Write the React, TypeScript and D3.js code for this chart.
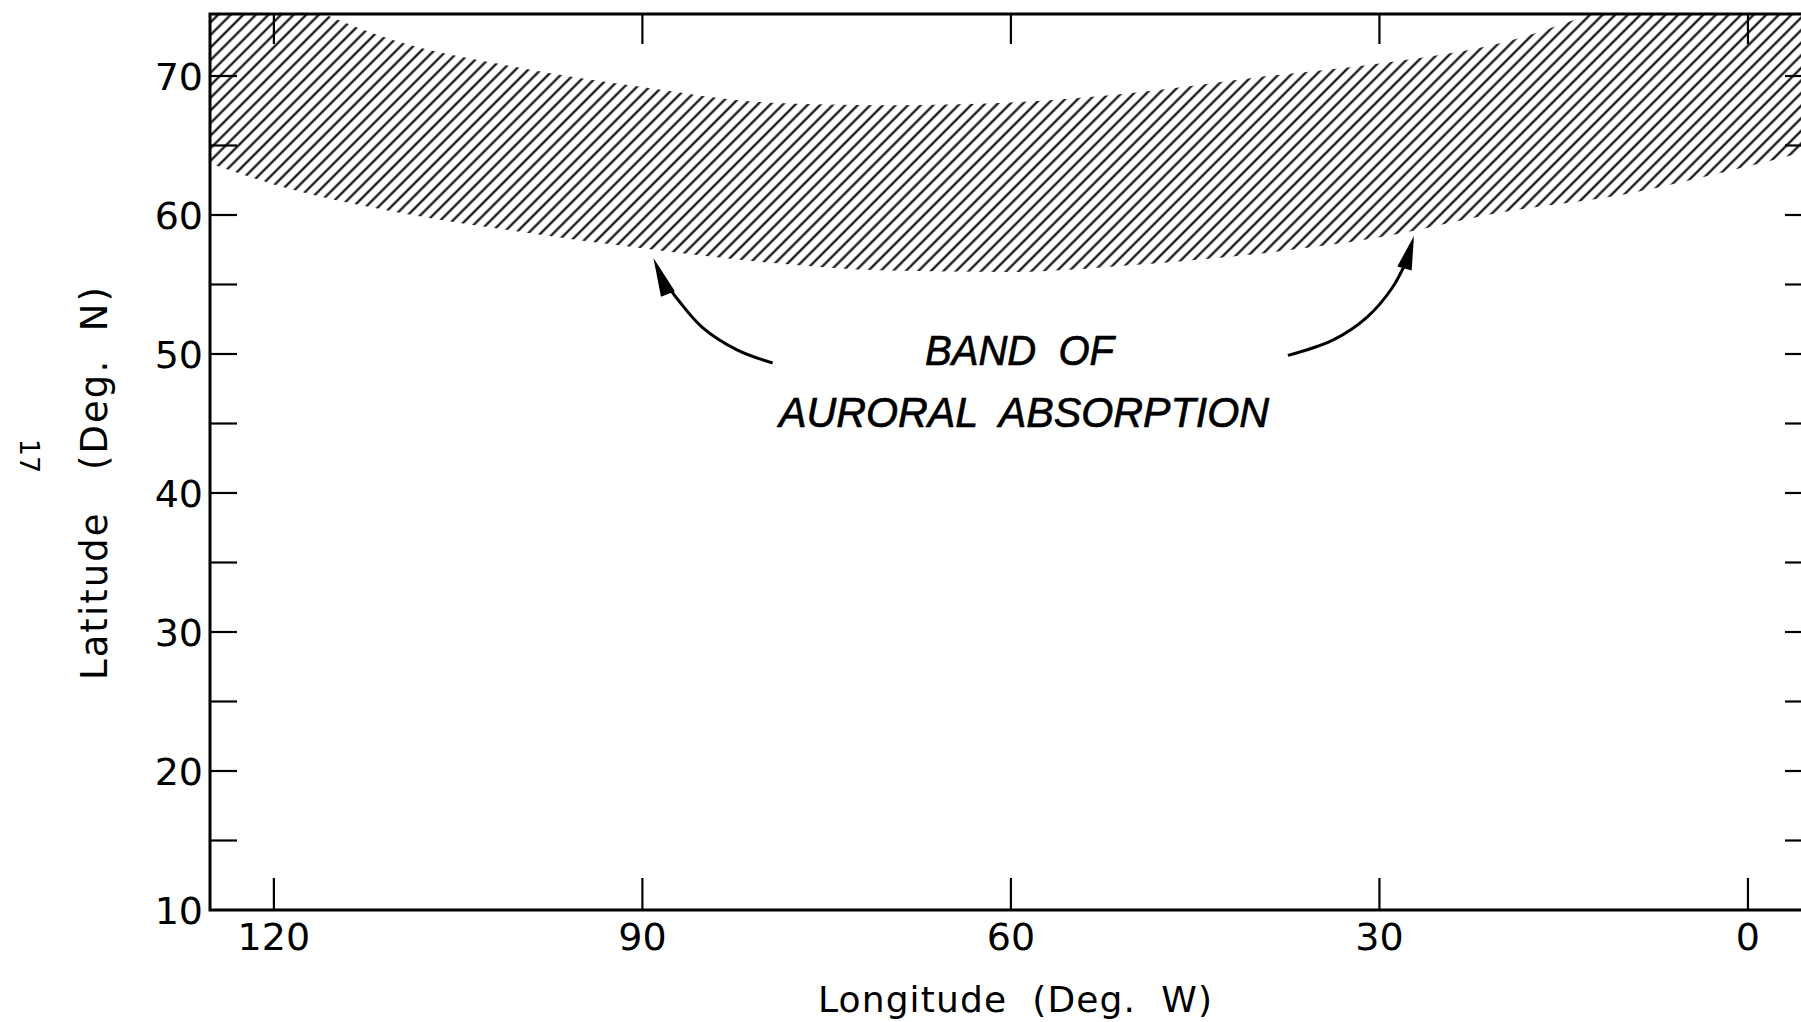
import React, { useEffect, useRef } from 'react';
import * as d3 from 'd3';

// longitude (deg W) and latitude (deg N) of the band edges
const bandLon = [125.2, 120, 110, 100, 90, 80, 70, 60, 50, 40, 30, 20, 10, 0, -4.4];
const bandNorth = [78, 76, 72.5, 70.6, 69.2, 68.1, 67.9, 68.1, 68.8, 69.9, 70.9, 72.4, 75.3, 78, 79];
const bandSouth = [63.7, 62.2, 60.2, 58.8, 57.6, 56.6, 56.0, 55.9, 56.4, 57.2, 58.4, 60.2, 61.5, 63.5, 64.5];

const lonTicks = [120, 90, 60, 30, 0];
const latTicks = [10, 20, 30, 40, 50, 60, 70];
const latMinor = [15, 20, 25, 30, 35, 40, 45, 50, 55, 60, 65, 70];

// arrows: shaft points [lon, lat], then head [base, tip]
const shaftLeft = [[79.4, 49.35], [82.3, 50.3], [85.1, 51.9], [87.1, 53.9], [88.25, 55.3]];
const headLeft = [[87.92, 54.32], [89.1, 56.9]];
const shaftRight = [[37.45, 49.9], [33.8, 51.0], [31.0, 52.66], [28.97, 54.75], [27.76, 56.76]];
const headRight = [[27.96, 56.15], [27.19, 58.49]];

const App = () => {
  const ref = useRef<SVGSVGElement>(null);

  useEffect(() => {
    const W = 1801;
    const H = 1022;
    const x = d3.scaleLinear().domain([125.2, -4.4]).range([210, 1802]);
    const y = d3.scaleLinear().domain([10, 74.46]).range([910, 14]);
    const [x0, x1] = x.range();
    const [y0, y1] = y.range();

    const svg = d3.select(ref.current);
    svg.selectAll('*').remove();
    svg.attr('width', W).attr('height', H);

    const defs = svg.append('defs');
    defs.append('clipPath').attr('id', 'plot')
      .append('rect').attr('x', x0).attr('y', y1).attr('width', x1 - x0).attr('height', y0 - y1);
    const pat = defs.append('pattern')
      .attr('id', 'hatch')
      .attr('patternUnits', 'userSpaceOnUse')
      .attr('width', 8.9)
      .attr('height', 20)
      .attr('patternTransform', 'rotate(45)');
    pat.append('line')
      .attr('x1', 4.45).attr('y1', -2).attr('x2', 4.45).attr('y2', 22)
      .attr('stroke', '#000').attr('stroke-width', 2.1);

    svg.append('rect').attr('width', W).attr('height', H).attr('fill', '#fff');

    // hatched band
    const band = bandLon.map((lon, i) => ({ lon, n: bandNorth[i], s: bandSouth[i] }));
    const area = d3.area<any>()
      .x((d) => x(d.lon))
      .y0((d) => y(d.s))
      .y1((d) => y(d.n))
      .curve(d3.curveMonotoneX);
    svg.append('path')
      .attr('clip-path', 'url(#plot)')
      .attr('d', area(band))
      .attr('fill', 'url(#hatch)');

    // frame
    svg.append('path')
      .attr('d', `M${x1},${y1}H${x0}V${y0}H${x1}`)
      .attr('fill', 'none')
      .attr('stroke', '#000')
      .attr('stroke-width', 3);

    const g = svg.append('g').attr('stroke', '#000').attr('stroke-width', 2.2);
    // longitude ticks top and bottom
    g.selectAll('.tb').data(lonTicks).join('line')
      .attr('x1', (d) => x(d)).attr('x2', (d) => x(d))
      .attr('y1', y0).attr('y2', y0 - 32);
    g.selectAll('.tt').data(lonTicks).join('line')
      .attr('x1', (d) => x(d)).attr('x2', (d) => x(d))
      .attr('y1', y1).attr('y2', y1 + 30);
    // latitude ticks left and right
    g.selectAll('.tl').data(latMinor).join('line')
      .attr('x1', x0).attr('x2', x0 + 27)
      .attr('y1', (d) => y(d)).attr('y2', (d) => y(d));
    g.selectAll('.tr').data(latMinor).join('line')
      .attr('x1', 1785).attr('x2', x1)
      .attr('y1', (d) => y(d)).attr('y2', (d) => y(d));

    const font = '"DejaVu Sans", sans-serif';
    svg.selectAll('.ylab').data(latTicks).join('text')
      .attr('x', 203)
      .attr('y', (d) => y(d))
      .attr('dy', '0.36em')
      .attr('text-anchor', 'end')
      .style('font-family', font)
      .style('font-size', '38px')
      .text((d) => d);
    svg.selectAll('.xlab').data(lonTicks).join('text')
      .attr('x', (d) => x(d))
      .attr('y', 950)
      .attr('text-anchor', 'middle')
      .style('font-family', font)
      .style('font-size', '38px')
      .text((d) => d);

    // axis titles
    svg.append('text')
      .attr('x', 818).attr('y', 1012)
      .attr('textLength', 394)
      .attr('lengthAdjust', 'spacing')
      .style('white-space', 'pre')
      .style('font-family', font)
      .style('font-size', '36px')
      .text('Longitude  (Deg.  W)');
    svg.append('text')
      .attr('transform', 'translate(107,680) rotate(-90)')
      .attr('textLength', 393)
      .attr('lengthAdjust', 'spacing')
      .style('white-space', 'pre')
      .style('font-family', font)
      .style('font-size', '37px')
      .text('Latitude   (Deg.  N)');

    // page number
    svg.append('text')
      .attr('transform', 'translate(20,456) rotate(90)')
      .attr('text-anchor', 'middle')
      .style('font-family', font)
      .style('font-size', '27px')
      .text('17');

    // annotation
    const ital = '"Liberation Sans", Arial, sans-serif';
    svg.append('text')
      .attr('x', 925).attr('y', 365)
      .attr('textLength', 189)
      .attr('lengthAdjust', 'spacingAndGlyphs')
      .attr('stroke', '#000').attr('stroke-width', 0.7)
      .style('white-space', 'pre')
      .style('font-family', ital).style('font-style', 'italic').style('font-size', '42px')
      .text('BAND  OF');
    svg.append('text')
      .attr('x', 779).attr('y', 427)
      .attr('textLength', 490)
      .attr('lengthAdjust', 'spacingAndGlyphs')
      .attr('stroke', '#000').attr('stroke-width', 0.7)
      .style('white-space', 'pre')
      .style('font-family', ital).style('font-style', 'italic').style('font-size', '42px')
      .text('AURORAL  ABSORPTION');

    const shaft = d3.line<number[]>()
      .x((d) => x(d[0]))
      .y((d) => y(d[1]))
      .curve(d3.curveCatmullRom);
    [[shaftLeft, headLeft], [shaftRight, headRight]].forEach(([pts, head]) => {
      svg.append('path')
        .attr('d', shaft(pts))
        .attr('fill', 'none')
        .attr('stroke', '#000')
        .attr('stroke-width', 3);
      const [base, tip] = head;
      const bx = x(base[0]), by = y(base[1]);
      const tx = x(tip[0]), ty = y(tip[1]);
      const len = Math.hypot(tx - bx, ty - by);
      const nx = -(ty - by) / len, ny = (tx - bx) / len;
      const hw = 7.5;
      svg.append('path')
        .attr('d', `M${tx},${ty}L${bx + nx * hw},${by + ny * hw}L${bx - nx * hw},${by - ny * hw}Z`)
        .attr('fill', '#000');
    });
  }, []);

  return (
    <div style={{ position: 'absolute', left: 0, top: 0 }}>
      <svg ref={ref} style={{ display: 'block' }}></svg>
    </div>
  );
};

export default App;
